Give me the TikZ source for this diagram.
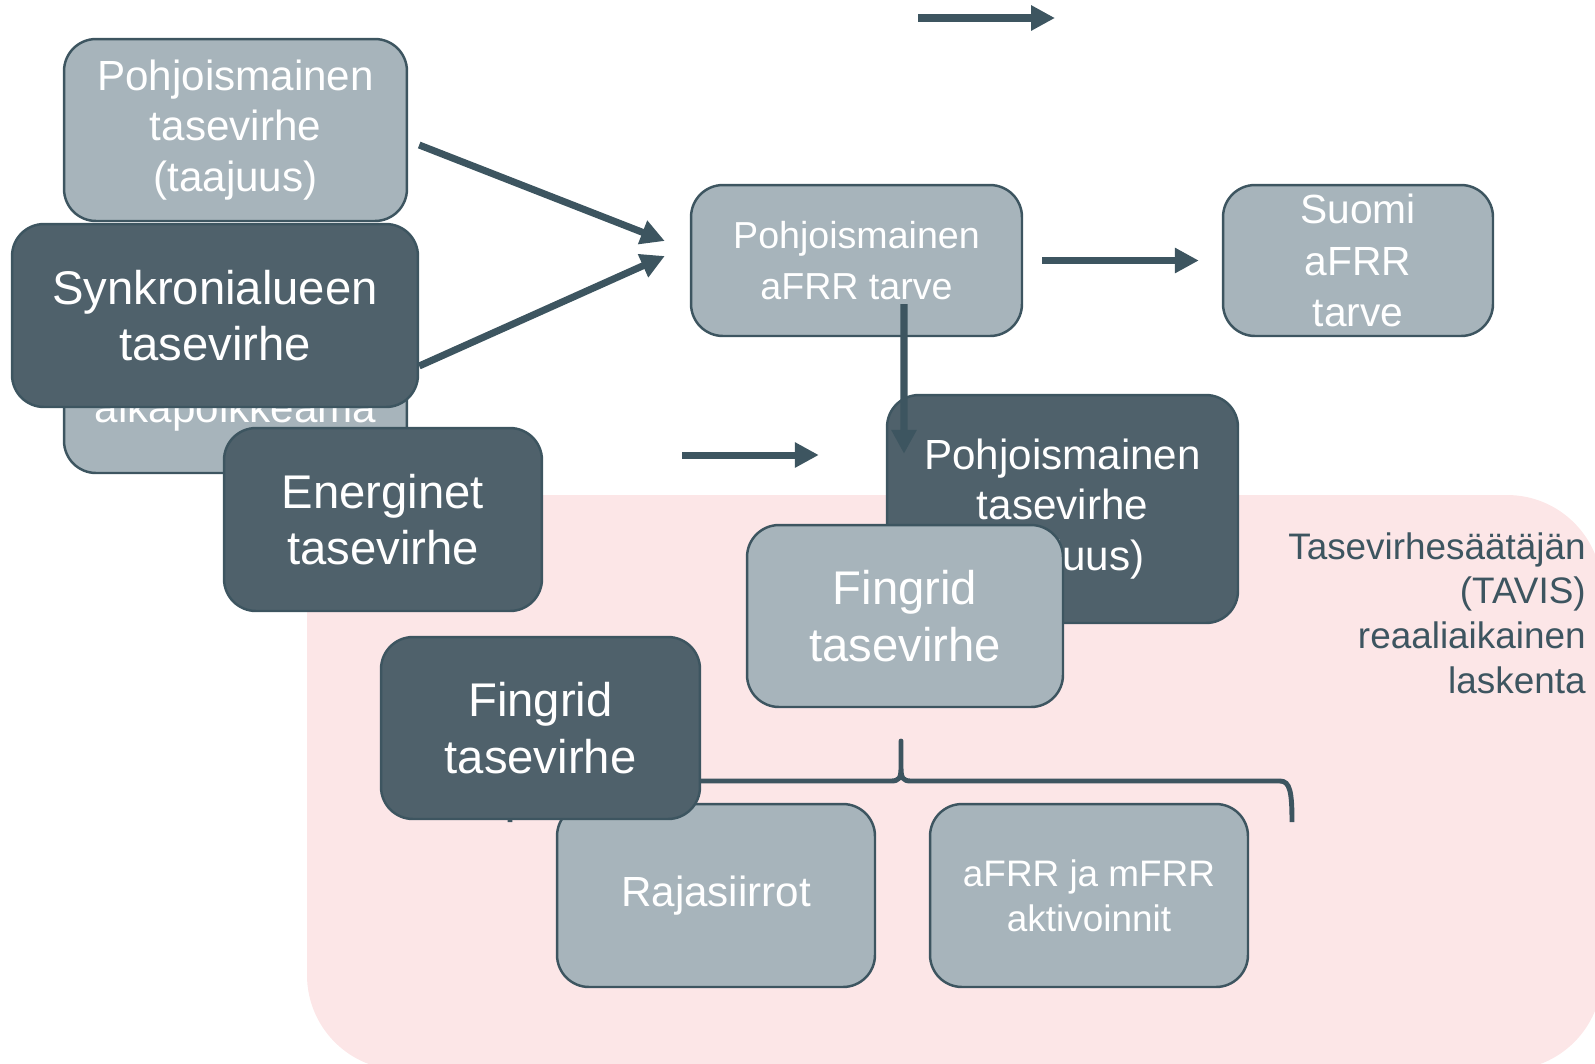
\documentclass[tikz,border=0pt]{standalone}
\usepackage{fontspec}
\setmainfont{Liberation Sans}
\usetikzlibrary{arrows.meta}

\definecolor{boxlight}{HTML}{A7B4BB}
\definecolor{boxdark}{HTML}{4F616B}
\definecolor{boxedge}{HTML}{3D5560}
\definecolor{zonepink}{HTML}{FCE6E7}

\tikzset{
  box/.style={draw=boxedge, line width=1.4pt, rounded corners=0.64cm,
    text=white, align=center, inner sep=0pt},
  lightbox/.style={box, fill=boxlight},
  darkbox/.style={box, fill=boxdark},
  flow/.style={draw=boxedge, line width=4pt,
    -{Triangle[length=13.6pt,width=13.6pt]}},
  bracket/.style={draw=boxedge, line width=2.8pt, line join=round},
  bigtxt/.style={font=\fontsize{26.9}{32.3}\selectfont},
  midtxt/.style={font=\fontsize{24}{28.9}\selectfont},
  smalltxt/.style={font=\fontsize{21}{25.4}\selectfont},
}

\begin{document}
\begin{tikzpicture}[x=0.02cm, y=-0.02cm]
  \useasboundingbox (0,0) rectangle (1595,1063);
  \clip (0,0) rectangle (1595,1063);

  % TAVIS zone
  \fill[zonepink, rounded corners=1.9cm] (307,495) rectangle (1602,1070);
  \node[anchor=east, align=right, inner sep=0pt, text=boxedge, smalltxt]
    (tavis) at (1586,613) {Tasevirhesäätäjän\\(TAVIS)\\reaaliaikainen\\laskenta};

  % loose arrow at the top
  \coordinate (topL) at (918,18);
  \coordinate (topR) at (1055,18);
  \draw[flow] (topL) -- (topR);

  % Inputs on the left
  \node[lightbox, midtxt, minimum width=6.86cm, minimum height=3.64cm]
    (taajuus) at (235.5,130) {Pohjoismainen\\tasevirhe\\(taajuus)};
  \node[lightbox, minimum width=6.86cm, minimum height=3.64cm]
    (aika) at (235.5,382) {};
  \node[anchor=base, text=white, midtxt, inner sep=0pt] (aikaTxt) at (235.5,422) {aikapoikkeama};
  \node[darkbox, bigtxt, minimum width=8.12cm, minimum height=3.66cm]
    (synk) at (215,315.5) {Synkronialueen\\tasevirhe};

  % aFRR need
  \node[lightbox, font=\fontsize{21.4}{29.5}\selectfont, minimum width=6.62cm, minimum height=3.02cm]
    (afrr) at (856.5,260.5) {Pohjoismainen\\aFRR tarve};
  \node[lightbox, font=\fontsize{23.2}{29.5}\selectfont, minimum width=5.4cm, minimum height=3.02cm]
    (suomi) at (1358,260.5) {Suomi\\aFRR\\tarve};

  \draw[flow] ([shift={(11,15)}]taajuus.east) -- ([shift={(-25,-19.5)}]afrr.west);
  \draw[flow] ([shift={(0,50.5)}]synk.east) -- ([shift={(-25,-4.5)}]afrr.west);
  \draw[flow] ([shift={(19,0)}]afrr.east) -- ([shift={(-23,0)}]suomi.west);

  % Nordic imbalance
  \node[darkbox, midtxt, minimum width=7.02cm, minimum height=4.56cm]
    (pohjtv) at (1062.5,509) {Pohjoismainen\\tasevirhe\\(taajuus)};
  \coordinate (midL) at (682,455);
  \draw[flow] (midL) -- ([shift={(-67,-54)}]pohjtv.west);
  \draw[flow] ([shift={(47.5,-33)}]afrr.south) -- ([shift={(-158.5,60)}]pohjtv.north);

  \node[lightbox, bigtxt, minimum width=6.32cm, minimum height=3.64cm]
    (fingL) at (905,616) {Fingrid\\tasevirhe};
  \node[darkbox, bigtxt, minimum width=6.36cm, minimum height=3.66cm]
    (energinet) at (383,519.5) {Energinet\\tasevirhe};

  % brace over the parts
  \draw[bracket] (510,822) .. controls (510,792) and (512,781) .. (522,781)
    -- (891,781) .. controls (899,781) and (901,778) .. (901,768) -- (901,741)
    -- (901,768) .. controls (901,778) and (903,781) .. (911,781)
    -- (1280,781) .. controls (1290,781) and (1292,792) .. (1292,822);

  \node[lightbox, midtxt, minimum width=6.36cm, minimum height=3.66cm]
    (raja) at (716,895.5) {Rajasiirrot};
  \node[lightbox, smalltxt, minimum width=6.36cm, minimum height=3.66cm]
    (aktiv) at (1089,895.5) {aFRR ja mFRR\\aktivoinnit};
  \node[darkbox, bigtxt, minimum width=6.38cm, minimum height=3.64cm]
    (fingD) at (540.5,728) {Fingrid\\tasevirhe};
\end{tikzpicture}
\end{document}
